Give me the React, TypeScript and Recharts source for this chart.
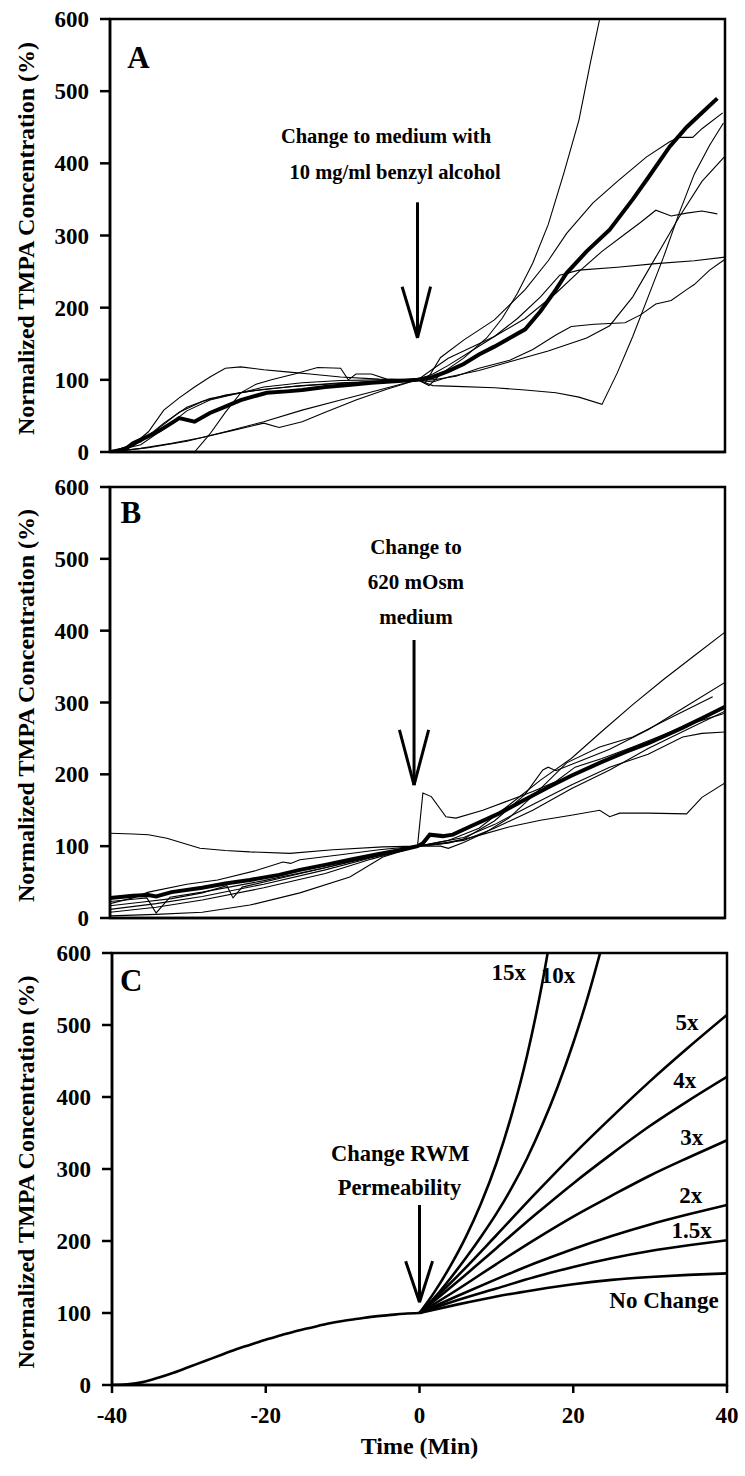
import React from 'react';
import { LineChart, Line, XAxis, YAxis, ReferenceLine, ReferenceDot, ReferenceArea } from 'recharts';

type Pt = [number, number];

const FONT = '"Liberation Serif", "Times New Roman", serif';
const X_TICKS = [-40, -20, 0, 20, 40];
const Y_TICKS = [0, 100, 200, 300, 400, 500, 600];
const Y_TITLE = 'Normalized TMPA Concentration (%)';
const X_TITLE = 'Time (Min)';

// ---------- Panel A ----------
const A_MEAN: Pt[] = [[-40,0],[-38,4],[-37,12],[-35,22],[-33.5,30],[-32,40],[-31,47],[-29,42],[-27,54],[-25,63],[-23,72],[-21,78],[-19.6,82],[-17,84],[-15,86],[-12,90],[-9,93],[-6,96],[-3,98],[0,100],[2,104],[4,112],[6,122],[8,135],[10,146],[12,158],[14,170],[16,195],[18,225],[19.4,248],[22,278],[25,308],[28,350],[30,380],[32.8,423],[35,450],[37,470],[39,490]];
const A_S1: Pt[] = [[-40,0],[-37,10],[-35,28],[-33,58],[-31,75],[-29,90],[-27,104],[-25,116],[-23,118],[-20,114],[-17,111],[-14,108],[-10,104],[-5,101],[0,100],[1,96],[3,131],[6,155],[10,183],[14,225],[17,265],[19.4,303],[22.8,345],[26,375],[29.8,409],[32.8,430],[34,436],[35.8,436],[37,448],[39.7,470]];
const A_S2: Pt[] = [[-40,0],[-29,0],[-27,25],[-25,55],[-23,82],[-21,94],[-19,100],[-16,108],[-13,117],[-10,116],[-9,100],[-8,108],[-6,108],[-4,101],[0,100],[1.5,92],[3,108],[6,130],[9,158],[11,185],[13,220],[15,262],[17,315],[19,385],[21,460],[22.5,540],[23.7,600],[25,665]];
const A_S3: Pt[] = [[-40,0],[-36,5],[-32,12],[-28,20],[-24,30],[-20,40],[-18,34],[-15,42],[-12,55],[-8,72],[-4,87],[0,100],[2,92],[5,91],[10,89],[14,86],[18,82],[21,76],[24,66],[26,110],[28,160],[30,215],[32,270],[34,330],[36,385],[38,425],[39.8,456]];
const A_S4: Pt[] = [[-40,0],[-35,6],[-30,15],[-25,28],[-20,42],[-15,58],[-10,72],[-5,86],[0,100],[2,97],[4,104],[8,113],[12,125],[17,140],[22,158],[25,175],[28,215],[31,270],[34,325],[37,375],[40,410]];
const A_S5: Pt[] = [[-40,0],[-37,8],[-34,30],[-31,55],[-28,70],[-25,79],[-20,87],[-15,92],[-10,95],[-5,98],[0,100],[2,115],[4,130],[6,140],[10,160],[14,185],[18,220],[21,250],[24,278],[27,302],[29,318],[31,335],[33,327],[35,331],[37,334],[39,330]];
const A_S6: Pt[] = [[-40,0],[-36,14],[-33,40],[-30,62],[-27,74],[-22,84],[-16,91],[-10,96],[-5,98],[0,100],[2,108],[4,120],[7,140],[10,160],[13,185],[16,215],[18.5,245],[21,252],[26,256],[31,261],[36,265],[40,270]];
const A_S7: Pt[] = [[-40,0],[-36,10],[-33,32],[-30,57],[-27,72],[-23,82],[-20,90],[-15,96],[-10,99],[-5,100],[0,100],[2,100],[5,105],[8,116],[12,127],[15,142],[18,162],[20,174],[23,177],[27,179],[29,190],[31,205],[33,210],[35,225],[36,232],[38,252],[40,267]];

// ---------- Panel B ----------
const B_MEAN: Pt[] = [[-40,28],[-37,31],[-35,32],[-34,30],[-32,36],[-28,42],[-25,48],[-21.8,53],[-18,60],[-15.3,67],[-12,74],[-8.8,81],[-5,89],[-2,95],[0,100],[0.7,104],[1.6,116],[3.3,114],[4.6,116],[7,128],[10.7,146],[14,165],[17.2,183],[20,198],[23.7,216],[27,231],[30.2,244],[34.5,265],[37,278],[40,294]];
const B_S1: Pt[] = [[-40,118],[-37,117],[-35,116],[-32.6,111],[-28.3,97],[-25,94],[-21.8,92],[-16.6,90],[-11,95],[-4.5,99],[0,100],[0.7,174],[1.8,169],[3.7,141],[5,139],[8.5,150],[11.5,162],[15,176],[18,190],[20.5,210],[24,222],[28,238],[32,255],[36,272],[40,285]];
const B_S2: Pt[] = [[-40,3],[-34,5],[-28,8],[-21.8,18],[-15.3,35],[-8.8,57],[-4.5,85],[0,100],[4,108],[8,125],[12,158],[16,192],[20,222],[24,260],[28,297],[32,332],[36,365],[40,398]];
const B_S3: Pt[] = [[-40,23],[-37,26],[-35.2,28],[-34,7],[-32.2,29],[-28,36],[-20,52],[-12,70],[-5,87],[0,100],[3,103],[6,110],[10,135],[14,172],[16.3,206],[17,210],[18,205],[21,218],[25,235],[30,262],[35,295],[40,328]];
const B_S4: Pt[] = [[-40,17],[-36,22],[-32,27],[-28,35],[-24.8,45],[-24,28],[-22.8,43],[-18,55],[-12,70],[-6,86],[0,100],[3,100],[4,97],[6,105],[9,120],[12,140],[16,180],[19.4,216],[23.7,238],[28,252],[32.4,276],[38.4,308]];
const B_S5: Pt[] = [[-40,20],[-37,28],[-35,36],[-30,47],[-26,53],[-21,66],[-17.5,78],[-16.5,76],[-15.3,81],[-10,88],[-5,95],[0,100],[3,104],[6,108],[10,125],[15,150],[20,180],[25,206],[30,236],[35,262],[40,288]];
const B_S6: Pt[] = [[-40,8],[-34,15],[-28,25],[-20,42],[-12,62],[-6,82],[0,100],[3,106],[6,112],[10,130],[15,158],[20,185],[25,210],[30,228],[34.5,252],[37,257],[40,259]];
const B_S7: Pt[] = [[-40,12],[-34,20],[-28,30],[-20,47],[-12,67],[-6,84],[0,100],[4,104],[8,115],[12,127],[16,136],[20,143],[23.7,150],[25,141],[26.3,146],[30,146],[35,145],[37,168],[40,188]];

// ---------- Panel C ----------
const C_BASE: Pt[] = [[-40,0],[-38,1],[-36,4],[-34,10],[-32,17],[-30,25],[-28,33],[-26,41],[-24,49],[-22,56],[-20,63],[-18,69],[-16,75],[-14,80],[-12,85],[-10,89],[-8,92],[-6,95],[-4,97],[-2,99],[0,100]];
const C_NONE: Pt[] = [[0,100],[5,112],[10,123],[15,132],[20,140],[25,146],[30,150],[35,153],[40,155]];
const C_1_5X: Pt[] = [[0,100],[5,118],[10,134],[15,150],[20,164],[25,176],[30,186],[35,194],[40,201]];
const C_2X: Pt[] = [[0,100],[5,124],[10,147],[15,169],[20,189],[25,207],[30,223],[35,237],[40,250]];
const C_3X: Pt[] = [[0,100],[5,133],[10,168],[15,202],[20,234],[25,263],[30,291],[35,316],[40,340]];
const C_4X: Pt[] = [[0,100],[5,144],[10,190],[15,236],[20,280],[25,321],[30,360],[35,395],[40,428]];
const C_5X: Pt[] = [[0,100],[5,152],[10,208],[15,265],[20,320],[25,372],[30,422],[35,469],[40,514]];
const C_10X: Pt[] = [[0,100],[2,122],[4,148],[6,176],[8,206],[10,238],[12,274],[14,315],[16,362],[18,415],[20,475],[22,543],[24,620]];
const C_15X: Pt[] = [[0,100],[2,130],[4,165],[6,205],[8,252],[10,308],[12,376],[14,458],[16,560],[18,685]];

type Ann = { t: number; v: number; text: string; size: number };
type Arrow = { t: number; top: number; tip: number; headV: number; headL: number; headR: number };

const A_TEXT: Ann[] = [
  { t: -4.1, v: 438, text: 'Change to medium with', size: 20.5 },
  { t: -2.9, v: 389, text: '10 mg/ml benzyl alcohol', size: 20.5 },
  { t: -36.3, v: 547, text: 'A', size: 31 },
];
const B_TEXT: Ann[] = [
  { t: -0.2, v: 517, text: 'Change to', size: 21 },
  { t: -0.2, v: 468, text: '620 mOsm', size: 21 },
  { t: -0.2, v: 419, text: 'medium', size: 21 },
  { t: -37.3, v: 565, text: 'B', size: 31 },
];
const C_TEXT: Ann[] = [
  { t: -2.5, v: 322, text: 'Change RWM', size: 22.5 },
  { t: -2.6, v: 275, text: 'Permeability', size: 22.5 },
  { t: -37.5, v: 562, text: 'C', size: 31 },
  { t: 11.6, v: 574, text: '15x', size: 23 },
  { t: 18.0, v: 569, text: '10x', size: 23 },
  { t: 34.8, v: 505, text: '5x', size: 23 },
  { t: 34.5, v: 424, text: '4x', size: 23 },
  { t: 35.4, v: 344, text: '3x', size: 23 },
  { t: 35.3, v: 264, text: '2x', size: 23 },
  { t: 35.4, v: 215, text: '1.5x', size: 23 },
  { t: 31.8, v: 118, text: 'No Change', size: 23 },
];

const A_ARROW: Arrow = { t: 0, top: 346, tip: 158, headV: 229, headL: -2.0, headR: 1.7 };
const B_ARROW: Arrow = { t: -0.45, top: 387, tip: 185, headV: 262, headL: -1.9, headR: 1.9 };
const C_ARROW: Arrow = { t: 0, top: 250, tip: 115, headV: 172, headL: -1.8, headR: 1.7 };

const toData = (pts: Pt[]) => pts.map(([t, v]) => ({ t, v }));

const axisStyle = { stroke: '#000', strokeWidth: 2.5 };
const tickStyle = { fill: '#000', fontSize: 23, fontWeight: 700, fontFamily: FONT };

function YTitle(props: any) {
  const vb = props.viewBox || { y: 0, height: 0 };
  const x = 34;
  const y = vb.y + vb.height / 2 + 3;
  return (
    <text x={x} y={y} transform={`rotate(-90 ${x} ${y})`} textAnchor="middle" fontFamily={FONT} fontWeight={700} fontSize={24} fill="#000">
      {Y_TITLE}
    </text>
  );
}

function XTitle(props: any) {
  const vb = props.viewBox || { x: 0, width: 0 };
  const x = vb.x + vb.width / 2;
  return (
    <text x={x} y={520} textAnchor="middle" fontFamily={FONT} fontWeight={700} fontSize={24} fill="#000">
      {X_TITLE}
    </text>
  );
}

type PanelCfg = {
  top: number;
  height: number;
  yAxisW: number;
  marginR: number;
  xAxisH: number;
  xLabels: boolean;
  thin: Pt[][];
  thinW: number;
  thick: Pt[][];
  thickW: number;
  curve: 'linear' | 'monotone';
  texts: Ann[];
  arrow: Arrow;
};

function renderPanel(p: PanelCfg, key: string) {
  const a = p.arrow;
  return (
    <div key={key} style={{ position: 'absolute', left: 0, top: p.top }}>
      <LineChart width={745} height={p.height} margin={{ top: 19, right: p.marginR, left: 0, bottom: 0 }}>
        <XAxis
          dataKey="t"
          type="number"
          domain={[-40, 40]}
          ticks={X_TICKS}
          interval={0}
          allowDataOverflow
          height={p.xAxisH}
          tickSize={8}
          tickMargin={p.xLabels ? 14 : 0}
          tick={p.xLabels ? tickStyle : false}
          axisLine={axisStyle}
          tickLine={axisStyle}
          label={p.xLabels ? XTitle : undefined}
        />
        <YAxis
          type="number"
          domain={[0, 600]}
          ticks={Y_TICKS}
          interval={0}
          allowDataOverflow
          width={p.yAxisW}
          tickSize={10}
          tickMargin={11}
          tick={tickStyle}
          axisLine={axisStyle}
          tickLine={axisStyle}
          label={YTitle}
        />
        <ReferenceArea x1={-40} x2={40} y1={0} y2={600} fill="none" fillOpacity={0} stroke="#000" strokeWidth={2.5} />
        {p.thin.map((s, i) => (
          <Line key={`thin${i}`} data={toData(s)} dataKey="v" type={p.curve} stroke="#000" strokeWidth={p.thinW} dot={false} activeDot={false} isAnimationActive={false} />
        ))}
        {p.thick.map((s, i) => (
          <Line key={`thick${i}`} data={toData(s)} dataKey="v" type={p.curve} stroke="#000" strokeWidth={p.thickW} dot={false} activeDot={false} isAnimationActive={false} />
        ))}
        <ReferenceLine segment={[{ x: a.t, y: a.top }, { x: a.t, y: a.tip }]} stroke="#000" strokeWidth={3} />
        <ReferenceLine segment={[{ x: a.t + a.headL, y: a.headV }, { x: a.t, y: a.tip }]} stroke="#000" strokeWidth={3} />
        <ReferenceLine segment={[{ x: a.t + a.headR, y: a.headV }, { x: a.t, y: a.tip }]} stroke="#000" strokeWidth={3} />
        {p.texts.map((n, i) => (
          <ReferenceDot
            key={`txt${i}`}
            x={n.t}
            y={n.v}
            r={0}
            fill="none"
            stroke="none"
            label={{ value: n.text, position: 'center', fill: '#000', fontSize: n.size, fontWeight: 700, fontFamily: FONT }}
          />
        ))}
      </LineChart>
    </div>
  );
}

export default function App() {
  const panels: PanelCfg[] = [
    {
      top: 0, height: 470, yAxisW: 110, marginR: 20, xAxisH: 18, xLabels: false,
      thin: [A_S1, A_S2, A_S3, A_S4, A_S5, A_S6, A_S7], thinW: 1.1,
      thick: [A_MEAN], thickW: 4, curve: 'linear', texts: A_TEXT, arrow: A_ARROW,
    },
    {
      top: 468, height: 470, yAxisW: 110, marginR: 20, xAxisH: 20, xLabels: false,
      thin: [B_S1, B_S2, B_S3, B_S4, B_S5, B_S6, B_S7], thinW: 1.1,
      thick: [B_MEAN], thickW: 4, curve: 'linear', texts: B_TEXT, arrow: B_ARROW,
    },
    {
      top: 934, height: 542, yAxisW: 112, marginR: 18, xAxisH: 91, xLabels: true,
      thin: [], thinW: 2.6,
      thick: [C_BASE, C_NONE, C_1_5X, C_2X, C_3X, C_4X, C_5X, C_10X, C_15X], thickW: 2.6,
      curve: 'monotone', texts: C_TEXT, arrow: C_ARROW,
    },
  ];
  return (
    <div style={{ position: 'absolute', left: 0, top: 0, width: 745, height: 1476, background: '#fff', overflow: 'hidden', fontFamily: FONT }}>
      {panels.map((p, i) => renderPanel(p, `p${i}`))}
    </div>
  );
}
